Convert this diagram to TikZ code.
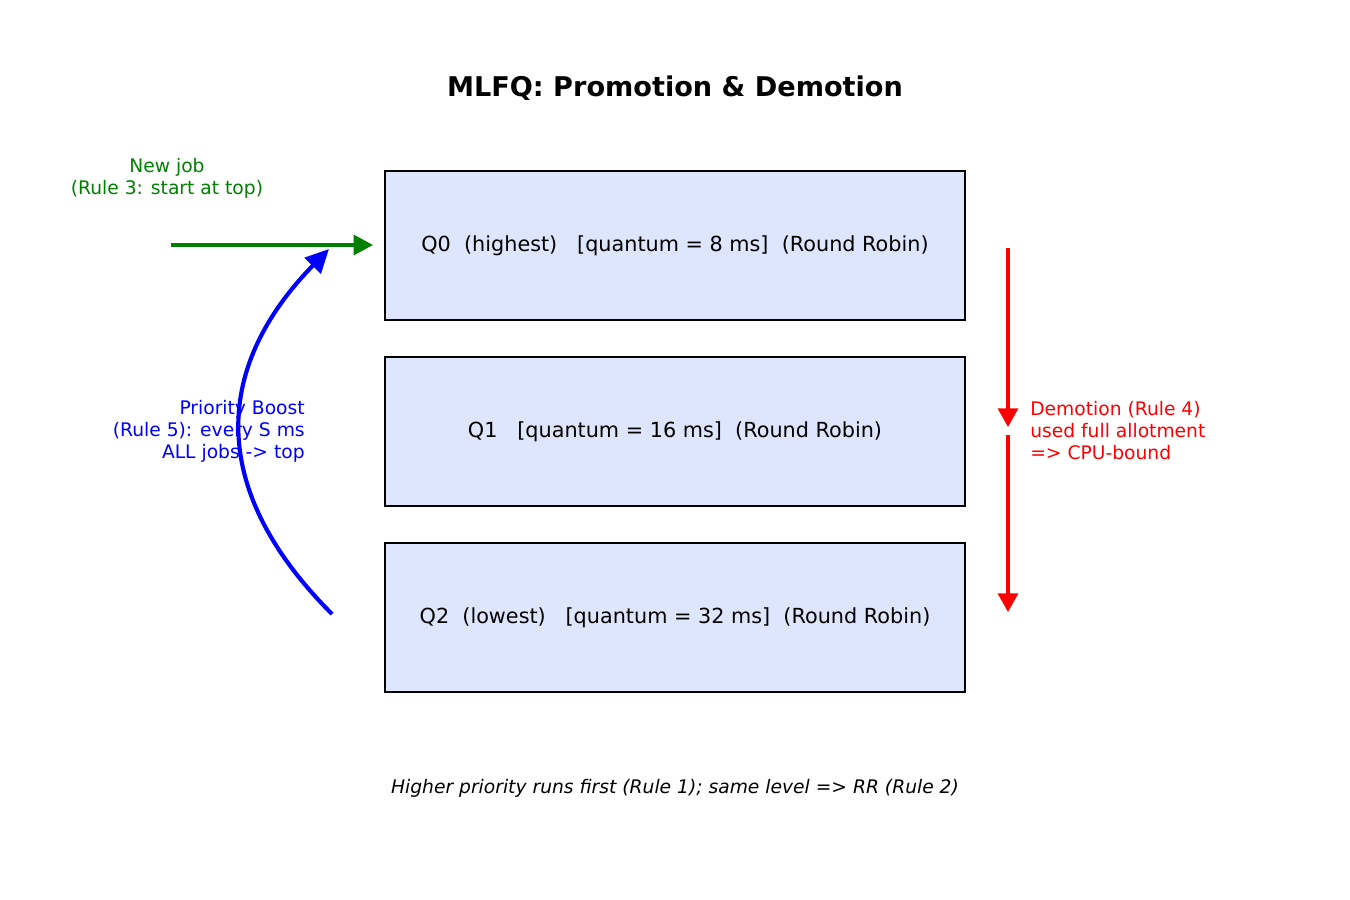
\documentclass[tikz,border=0pt]{standalone}
\usepackage{fontspec}
\setmainfont{DejaVu Sans}
\usetikzlibrary{arrows.meta}
\definecolor{boxfill}{RGB}{221,230,252}
\definecolor{mgreen}{RGB}{0,128,0}
\definecolor{mblue}{RGB}{0,0,255}
\definecolor{mred}{RGB}{255,0,0}
\tikzset{
  queue/.style={draw=black, line width=1.1pt, fill=boxfill, minimum width=5.8in, minimum height=1.49in, inner sep=0pt, font=\fontsize{15}{18}\selectfont},
  lbl/.style={inner sep=0pt, font=\fontsize{13.5}{15.9}\selectfont},
}
\begin{document}
\begin{tikzpicture}[x=0.01in, y=-0.01in]
\path[use as bounding box, fill=white] (0,0) rectangle (1350,900);
% title
\node[inner sep=0pt, font=\fontsize{19.6}{22}\selectfont\bfseries] (title) at (675,88) {MLFQ: Promotion \& Demotion};
% queues
\node[queue] (q0) at (675,245.5) {Q0\ \ (highest)\ \ \ [quantum = 8 ms]\ \ (Round Robin)};
\node[queue] (q1) at (675,431.5) {Q1\ \ \ [quantum = 16 ms]\ \ (Round Robin)};
\node[queue] (q2) at (675,617.5) {Q2\ \ (lowest)\ \ \ [quantum = 32 ms]\ \ (Round Robin)};
% new job
\node[lbl, text=mgreen, align=center] (newjob) at (167,178) {New job\\(Rule 3: start at top)};
\coordinate (gs) at (171,245);
\coordinate (ge) at (373,245);
\draw[mgreen, line width=2.3pt, -{Triangle[length=14pt,width=14.5pt]}] (gs) -- (ge);
% priority boost
\node[lbl, text=mblue, align=right, anchor=east] (boost) at (305,431) {Priority Boost\\(Rule 5): every S ms\\ALL jobs -> top};
\coordinate (bs) at (332,614);
\coordinate (be) at (329,249);
\draw[mblue, line width=3pt, -{Triangle[length=17pt,width=16pt]}] (bs) .. controls (210.7,492.7) and (210,371) .. (be);
% demotion
\coordinate (d1s) at (1008,248);
\coordinate (d1e) at (1008,427);
\coordinate (d2s) at (1008,435);
\coordinate (d2e) at (1008,612);
\draw[mred, line width=2.3pt, -{Triangle[length=13.5pt,width=14.5pt]}] (d1s) -- (d1e);
\draw[mred, line width=2.3pt, -{Triangle[length=13.5pt,width=14.5pt]}] (d2s) -- (d2e);
\node[lbl, text=mred, align=left, anchor=west] (demote) at (1030,431) {Demotion (Rule 4)\\used full allotment\\=> CPU-bound};
% footer
\node[inner sep=0pt, font=\fontsize{13.5}{16}\selectfont\itshape] (foot) at (675,788) {Higher priority runs first (Rule 1); same level => RR (Rule 2)};
\end{tikzpicture}
\end{document}
